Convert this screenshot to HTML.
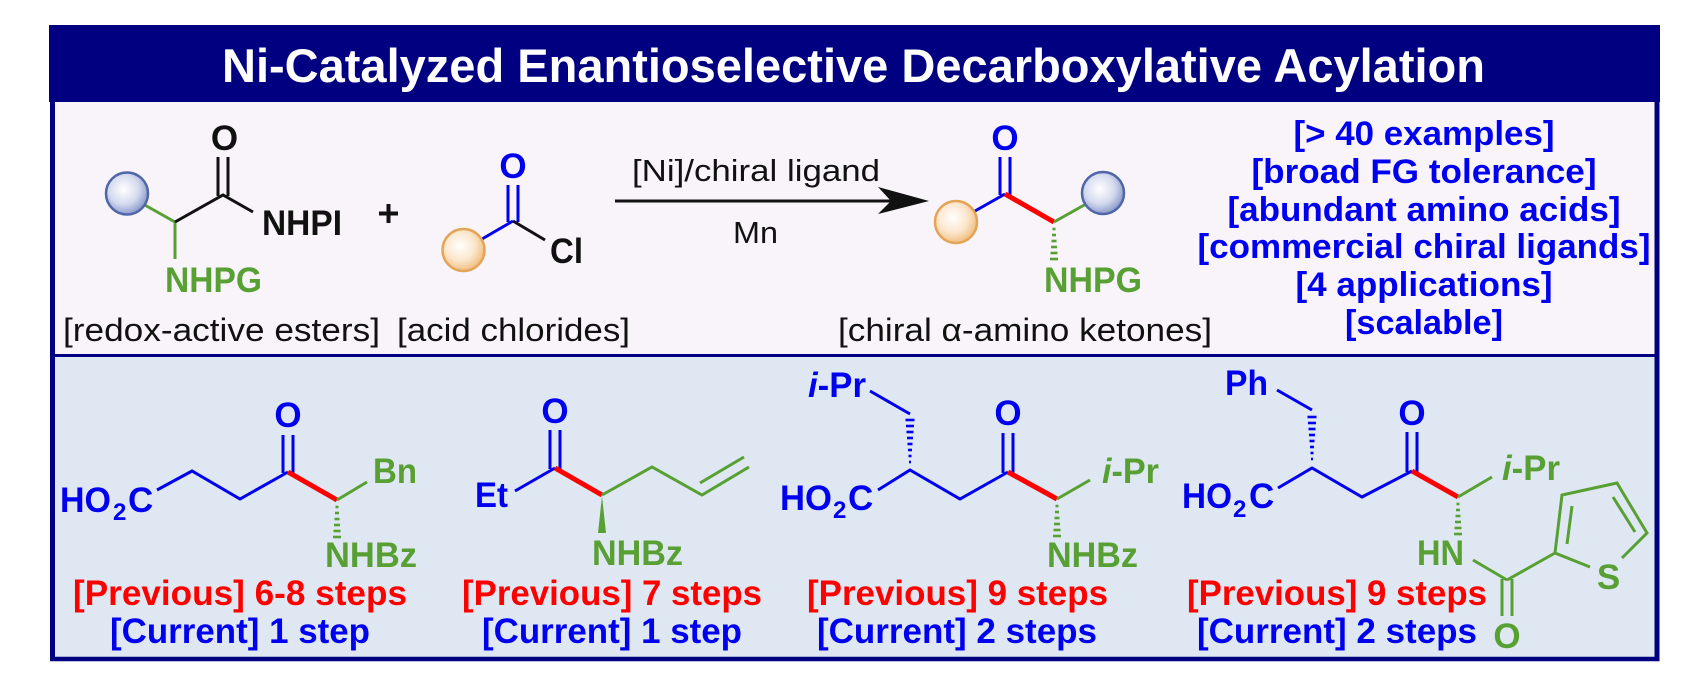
<!DOCTYPE html>
<html>
<head>
<meta charset="utf-8">
<style>
  html,body{margin:0;padding:0;background:#ffffff;}
  body{width:1682px;height:676px;overflow:hidden;}
  svg{display:block;}
  text{font-family:"Liberation Sans",Arial,Helvetica,sans-serif;}
  .b{font-weight:bold;}
</style>
</head>
<body>
<svg width="1682" height="676" viewBox="0 0 1682 676" xmlns="http://www.w3.org/2000/svg">
  <defs>
    <radialGradient id="gb" cx="0.42" cy="0.4" r="0.65">
      <stop offset="0" stop-color="#ffffff"/>
      <stop offset="0.55" stop-color="#d4daee"/>
      <stop offset="1" stop-color="#7f8fc6"/>
    </radialGradient>
    <radialGradient id="go" cx="0.42" cy="0.4" r="0.65">
      <stop offset="0" stop-color="#ffffff"/>
      <stop offset="0.55" stop-color="#fbe6cb"/>
      <stop offset="1" stop-color="#efb774"/>
    </radialGradient>
  </defs>

  <rect x="0" y="0" width="1682" height="676" fill="#ffffff"/>

  <!-- panels -->
  <rect x="52" y="102" width="1605" height="253" fill="#f8f4fa"/>
  <rect x="52" y="355" width="1605" height="304" fill="#dfe8f2"/>
  <!-- header -->
  <rect x="49" y="25" width="1611" height="77" fill="#000080"/>
  <!-- frame -->
  <line x1="52.5" y1="100" x2="52.5" y2="661" stroke="#000080" stroke-width="5"/>
  <line x1="1657" y1="100" x2="1657" y2="661" stroke="#000080" stroke-width="5"/>
  <line x1="50" y1="659" x2="1659.5" y2="659" stroke="#000080" stroke-width="4.5"/>
  <line x1="52" y1="355.5" x2="1657" y2="355.5" stroke="#000080" stroke-width="3"/>

  <text x="222" y="82" class="b" font-size="47" fill="#ffffff" textLength="1263" lengthAdjust="spacingAndGlyphs">Ni-Catalyzed Enantioselective Decarboxylative Acylation</text>

  <!-- ===== Reactant 1 ===== -->
  <line x1="143" y1="204" x2="175" y2="222" stroke="#58a033" stroke-width="3"/>
  <line x1="175" y1="222" x2="175" y2="259" stroke="#58a033" stroke-width="3"/>
  <polyline points="175,222 223,195 253,212" fill="none" stroke="#111" stroke-width="3"/>
  <line x1="218" y1="196" x2="218" y2="157" stroke="#111" stroke-width="3"/>
  <line x1="228" y1="196" x2="228" y2="157" stroke="#111" stroke-width="3"/>
  <circle cx="127" cy="193.5" r="21" fill="url(#gb)" stroke="#5066a8" stroke-width="2.5"/>
  <text x="224.5" y="150" class="b" font-size="35" fill="#111" text-anchor="middle">O</text>
  <text x="262" y="235" class="b" font-size="35" fill="#111" textLength="80" lengthAdjust="spacingAndGlyphs">NHPI</text>
  <text x="165" y="292" class="b" font-size="35" fill="#58a033" textLength="97" lengthAdjust="spacingAndGlyphs">NHPG</text>

  <!-- plus -->
  <line x1="379" y1="213.5" x2="398" y2="213.5" stroke="#111" stroke-width="4"/>
  <line x1="388.5" y1="204" x2="388.5" y2="223" stroke="#111" stroke-width="4"/>

  <!-- ===== Reactant 2 ===== -->
  <line x1="482" y1="239" x2="513" y2="221" stroke="#0000f0" stroke-width="3"/>
  <line x1="508" y1="222" x2="508" y2="185" stroke="#0000f0" stroke-width="3"/>
  <line x1="518" y1="222" x2="518" y2="185" stroke="#0000f0" stroke-width="3"/>
  <line x1="513" y1="221" x2="545" y2="240" stroke="#111" stroke-width="3"/>
  <circle cx="463.5" cy="250" r="21" fill="url(#go)" stroke="#e4a456" stroke-width="2.5"/>
  <text x="513" y="178" class="b" font-size="35" fill="#0000f0" text-anchor="middle">O</text>
  <text x="550" y="263" class="b" font-size="35" fill="#111" textLength="33" lengthAdjust="spacingAndGlyphs">Cl</text>

  <!-- labels -->
  <text x="63" y="341" font-size="32" fill="#111" textLength="317" lengthAdjust="spacingAndGlyphs">[redox-active esters]</text>
  <text x="397" y="341" font-size="32" fill="#111" textLength="233" lengthAdjust="spacingAndGlyphs">[acid chlorides]</text>
  <text x="838" y="341" font-size="32" fill="#111" textLength="374" lengthAdjust="spacingAndGlyphs">[chiral α-amino ketones]</text>

  <!-- ===== Arrow ===== -->
  <line x1="615" y1="201" x2="895" y2="201" stroke="#111" stroke-width="3"/>
  <polygon points="929,201 878,187 891,201 878,214" fill="#111"/>
  <text x="632" y="181" font-size="31" fill="#111" textLength="248" lengthAdjust="spacingAndGlyphs">[Ni]/chiral ligand</text>
  <text x="733" y="243" font-size="31" fill="#111" textLength="45" lengthAdjust="spacingAndGlyphs">Mn</text>

  <!-- ===== Product ===== -->
  <line x1="975" y1="211" x2="1005" y2="194" stroke="#0000f0" stroke-width="3"/>
  <line x1="1000" y1="195" x2="1000" y2="157" stroke="#0000f0" stroke-width="3"/>
  <line x1="1010" y1="195" x2="1010" y2="157" stroke="#0000f0" stroke-width="3"/>
  <line x1="1005" y1="194" x2="1054" y2="222" stroke="#ff0000" stroke-width="5"/>
  <line x1="1054" y1="222" x2="1086" y2="204" stroke="#58a033" stroke-width="3"/>
  <g stroke="#58a033" stroke-width="2.6">
    <line x1="1052.5" y1="229" x2="1055.5" y2="229"/>
    <line x1="1052" y1="235" x2="1056" y2="235"/>
    <line x1="1051.5" y1="241" x2="1056.5" y2="241"/>
    <line x1="1051" y1="247" x2="1057" y2="247"/>
    <line x1="1050.5" y1="253" x2="1057.5" y2="253"/>
    <line x1="1050" y1="259" x2="1058" y2="259"/>
  </g>
  <circle cx="956" cy="222" r="21" fill="url(#go)" stroke="#e4a456" stroke-width="2.5"/>
  <circle cx="1103" cy="193" r="21" fill="url(#gb)" stroke="#5066a8" stroke-width="2.5"/>
  <text x="1005" y="150" class="b" font-size="35" fill="#0000f0" text-anchor="middle">O</text>
  <text x="1044" y="292" class="b" font-size="35" fill="#58a033" textLength="98" lengthAdjust="spacingAndGlyphs">NHPG</text>

  <!-- features -->
  <g class="b" font-size="34" fill="#0000f0" text-anchor="middle" font-weight="bold">
    <text x="1424" y="145" textLength="261" lengthAdjust="spacingAndGlyphs">[&gt; 40 examples]</text>
    <text x="1424" y="183" textLength="345" lengthAdjust="spacingAndGlyphs">[broad FG tolerance]</text>
    <text x="1424" y="221" textLength="393" lengthAdjust="spacingAndGlyphs">[abundant amino acids]</text>
    <text x="1424" y="258" textLength="453" lengthAdjust="spacingAndGlyphs">[commercial chiral ligands]</text>
    <text x="1424" y="296" textLength="257" lengthAdjust="spacingAndGlyphs">[4 applications]</text>
    <text x="1424" y="334" textLength="158" lengthAdjust="spacingAndGlyphs">[scalable]</text>
  </g>

  <!-- ===== Compound 1 ===== -->
  <polyline points="157,490 192,471 240,499 288,472" fill="none" stroke="#0000f0" stroke-width="3"/>
  <line x1="283" y1="473" x2="283" y2="435" stroke="#0000f0" stroke-width="3"/>
  <line x1="293" y1="473" x2="293" y2="435" stroke="#0000f0" stroke-width="3"/>
  <line x1="288" y1="472" x2="337" y2="500" stroke="#ff0000" stroke-width="5"/>
  <line x1="337" y1="500" x2="367" y2="482" stroke="#58a033" stroke-width="3"/>
  <g stroke="#58a033" stroke-width="2.6">
    <line x1="335.5" y1="507" x2="338.5" y2="507"/>
    <line x1="335" y1="513" x2="339" y2="513"/>
    <line x1="334.5" y1="519" x2="339.5" y2="519"/>
    <line x1="334" y1="525" x2="340" y2="525"/>
    <line x1="333.5" y1="531" x2="340.5" y2="531"/>
    <line x1="333" y1="537" x2="341" y2="537"/>
  </g>
  <text x="60" y="512" class="b" font-size="35" fill="#0000f0" textLength="51" lengthAdjust="spacingAndGlyphs">HO</text>
  <text x="113" y="520" class="b" font-size="24" fill="#0000f0">2</text>
  <text x="128" y="512" class="b" font-size="35" fill="#0000f0">C</text>
  <text x="288" y="427" class="b" font-size="35" fill="#0000f0" text-anchor="middle">O</text>
  <text x="373" y="483" class="b" font-size="35" fill="#58a033" textLength="44" lengthAdjust="spacingAndGlyphs">Bn</text>
  <text x="325" y="567" class="b" font-size="35" fill="#58a033" textLength="92" lengthAdjust="spacingAndGlyphs">NHBz</text>
  <text x="73" y="605" class="b" font-size="35" fill="#ff0000" textLength="334" lengthAdjust="spacingAndGlyphs">[Previous] 6-8 steps</text>
  <text x="110" y="643" class="b" font-size="35" fill="#0000f0" textLength="260" lengthAdjust="spacingAndGlyphs">[Current] 1 step</text>

  <!-- ===== Compound 2 ===== -->
  <line x1="515" y1="491" x2="555" y2="468" stroke="#0000f0" stroke-width="3"/>
  <line x1="550" y1="469" x2="550" y2="430" stroke="#0000f0" stroke-width="3"/>
  <line x1="560" y1="469" x2="560" y2="430" stroke="#0000f0" stroke-width="3"/>
  <line x1="555" y1="468" x2="602" y2="495" stroke="#ff0000" stroke-width="5"/>
  <polyline points="602,495 652,467 702,495 749,467" fill="none" stroke="#58a033" stroke-width="3"/>
  <line x1="700" y1="483" x2="744" y2="457" stroke="#58a033" stroke-width="3"/>
  <polygon points="602,496 598,533 606,533" fill="#58a033"/>
  <text x="475" y="507" class="b" font-size="35" fill="#0000f0" textLength="33" lengthAdjust="spacingAndGlyphs">Et</text>
  <text x="555" y="423" class="b" font-size="35" fill="#0000f0" text-anchor="middle">O</text>
  <text x="592" y="565" class="b" font-size="35" fill="#58a033" textLength="91" lengthAdjust="spacingAndGlyphs">NHBz</text>
  <text x="462" y="605" class="b" font-size="35" fill="#ff0000" textLength="300" lengthAdjust="spacingAndGlyphs">[Previous] 7 steps</text>
  <text x="482" y="643" class="b" font-size="35" fill="#0000f0" textLength="260" lengthAdjust="spacingAndGlyphs">[Current] 1 step</text>

  <!-- ===== Compound 3 ===== -->
  <line x1="870" y1="391" x2="910" y2="414" stroke="#0000f0" stroke-width="3"/>
  <g stroke="#0000f0" stroke-width="2.6">
    <line x1="905.5" y1="420" x2="914.5" y2="420"/>
    <line x1="906" y1="426" x2="914" y2="426"/>
    <line x1="906.5" y1="432" x2="913.5" y2="432"/>
    <line x1="907" y1="438" x2="913" y2="438"/>
    <line x1="907.5" y1="444" x2="912.5" y2="444"/>
    <line x1="908" y1="450" x2="912" y2="450"/>
    <line x1="908.5" y1="456" x2="911.5" y2="456"/>
    <line x1="909" y1="462" x2="911" y2="462"/>
  </g>
  <polyline points="878,490 910,470 960,499 1008,472" fill="none" stroke="#0000f0" stroke-width="3"/>
  <line x1="1003" y1="473" x2="1003" y2="433" stroke="#0000f0" stroke-width="3"/>
  <line x1="1013" y1="473" x2="1013" y2="433" stroke="#0000f0" stroke-width="3"/>
  <line x1="1008" y1="472" x2="1057" y2="499" stroke="#ff0000" stroke-width="5"/>
  <line x1="1057" y1="499" x2="1090" y2="480" stroke="#58a033" stroke-width="3"/>
  <g stroke="#58a033" stroke-width="2.6">
    <line x1="1055.5" y1="506" x2="1058.5" y2="506"/>
    <line x1="1055" y1="512" x2="1059" y2="512"/>
    <line x1="1054.5" y1="518" x2="1059.5" y2="518"/>
    <line x1="1054" y1="524" x2="1060" y2="524"/>
    <line x1="1053.5" y1="530" x2="1060.5" y2="530"/>
    <line x1="1053" y1="536" x2="1061" y2="536"/>
  </g>
  <text x="808" y="397" class="b" font-size="35" fill="#0000f0" textLength="58" lengthAdjust="spacingAndGlyphs"><tspan font-style="italic">i</tspan>-Pr</text>
  <text x="780" y="510" class="b" font-size="35" fill="#0000f0" textLength="52" lengthAdjust="spacingAndGlyphs">HO</text>
  <text x="833" y="518" class="b" font-size="24" fill="#0000f0">2</text>
  <text x="848" y="510" class="b" font-size="35" fill="#0000f0">C</text>
  <text x="1008" y="425" class="b" font-size="35" fill="#0000f0" text-anchor="middle">O</text>
  <text x="1102" y="483" class="b" font-size="35" fill="#58a033" textLength="57" lengthAdjust="spacingAndGlyphs"><tspan font-style="italic">i</tspan>-Pr</text>
  <text x="1047" y="567" class="b" font-size="35" fill="#58a033" textLength="91" lengthAdjust="spacingAndGlyphs">NHBz</text>
  <text x="807" y="605" class="b" font-size="35" fill="#ff0000" textLength="301" lengthAdjust="spacingAndGlyphs">[Previous] 9 steps</text>
  <text x="817" y="643" class="b" font-size="35" fill="#0000f0" textLength="280" lengthAdjust="spacingAndGlyphs">[Current] 2 steps</text>

  <!-- ===== Compound 4 ===== -->
  <line x1="1277" y1="390" x2="1312" y2="410" stroke="#0000f0" stroke-width="3"/>
  <g stroke="#0000f0" stroke-width="2.6">
    <line x1="1307.5" y1="417" x2="1316.5" y2="417"/>
    <line x1="1308" y1="423" x2="1316" y2="423"/>
    <line x1="1308.5" y1="429" x2="1315.5" y2="429"/>
    <line x1="1309" y1="435" x2="1315" y2="435"/>
    <line x1="1309.5" y1="441" x2="1314.5" y2="441"/>
    <line x1="1310" y1="447" x2="1314" y2="447"/>
    <line x1="1310.5" y1="453" x2="1313.5" y2="453"/>
    <line x1="1311" y1="459" x2="1313" y2="459"/>
  </g>
  <polyline points="1278,488 1312,468 1362,497 1412,471" fill="none" stroke="#0000f0" stroke-width="3"/>
  <line x1="1407" y1="472" x2="1407" y2="432" stroke="#0000f0" stroke-width="3"/>
  <line x1="1417" y1="472" x2="1417" y2="432" stroke="#0000f0" stroke-width="3"/>
  <line x1="1412" y1="471" x2="1458" y2="497" stroke="#ff0000" stroke-width="5"/>
  <line x1="1458" y1="497" x2="1492" y2="477" stroke="#58a033" stroke-width="3"/>
  <g stroke="#58a033" stroke-width="2.6">
    <line x1="1456.5" y1="504" x2="1459.5" y2="504"/>
    <line x1="1456" y1="510" x2="1460" y2="510"/>
    <line x1="1455.5" y1="516" x2="1460.5" y2="516"/>
    <line x1="1455" y1="522" x2="1461" y2="522"/>
    <line x1="1454.5" y1="528" x2="1461.5" y2="528"/>
    <line x1="1454" y1="534" x2="1462" y2="534"/>
  </g>
  <!-- amide + thiophene -->
  <line x1="1473" y1="560" x2="1507" y2="580" stroke="#58a033" stroke-width="3"/>
  <line x1="1502" y1="579" x2="1502" y2="616" stroke="#58a033" stroke-width="3"/>
  <line x1="1512" y1="579" x2="1512" y2="616" stroke="#58a033" stroke-width="3"/>
  <line x1="1507" y1="580" x2="1555" y2="553" stroke="#58a033" stroke-width="3"/>
  <polyline points="1590,567 1555,553 1562,495 1617,483 1647,533 1622,558" fill="none" stroke="#58a033" stroke-width="3" stroke-linejoin="miter"/>
  <line x1="1572" y1="506" x2="1567" y2="544" stroke="#58a033" stroke-width="3"/>
  <line x1="1613" y1="497" x2="1635" y2="532" stroke="#58a033" stroke-width="3"/>
  <text x="1225" y="395" class="b" font-size="35" fill="#0000f0" textLength="43" lengthAdjust="spacingAndGlyphs">Ph</text>
  <text x="1182" y="508" class="b" font-size="35" fill="#0000f0" textLength="50" lengthAdjust="spacingAndGlyphs">HO</text>
  <text x="1233" y="517" class="b" font-size="24" fill="#0000f0">2</text>
  <text x="1249" y="508" class="b" font-size="35" fill="#0000f0">C</text>
  <text x="1412" y="425" class="b" font-size="35" fill="#0000f0" text-anchor="middle">O</text>
  <text x="1502" y="480" class="b" font-size="35" fill="#58a033" textLength="58" lengthAdjust="spacingAndGlyphs"><tspan font-style="italic">i</tspan>-Pr</text>
  <text x="1417" y="565" class="b" font-size="35" fill="#58a033" textLength="47" lengthAdjust="spacingAndGlyphs">HN</text>
  <text x="1608.5" y="589" class="b" font-size="35" fill="#58a033" text-anchor="middle">S</text>
  <text x="1507" y="648" class="b" font-size="35" fill="#58a033" text-anchor="middle">O</text>
  <text x="1187" y="605" class="b" font-size="35" fill="#ff0000" textLength="300" lengthAdjust="spacingAndGlyphs">[Previous] 9 steps</text>
  <text x="1197" y="643" class="b" font-size="35" fill="#0000f0" textLength="280" lengthAdjust="spacingAndGlyphs">[Current] 2 steps</text>
</svg>
</body>
</html>
